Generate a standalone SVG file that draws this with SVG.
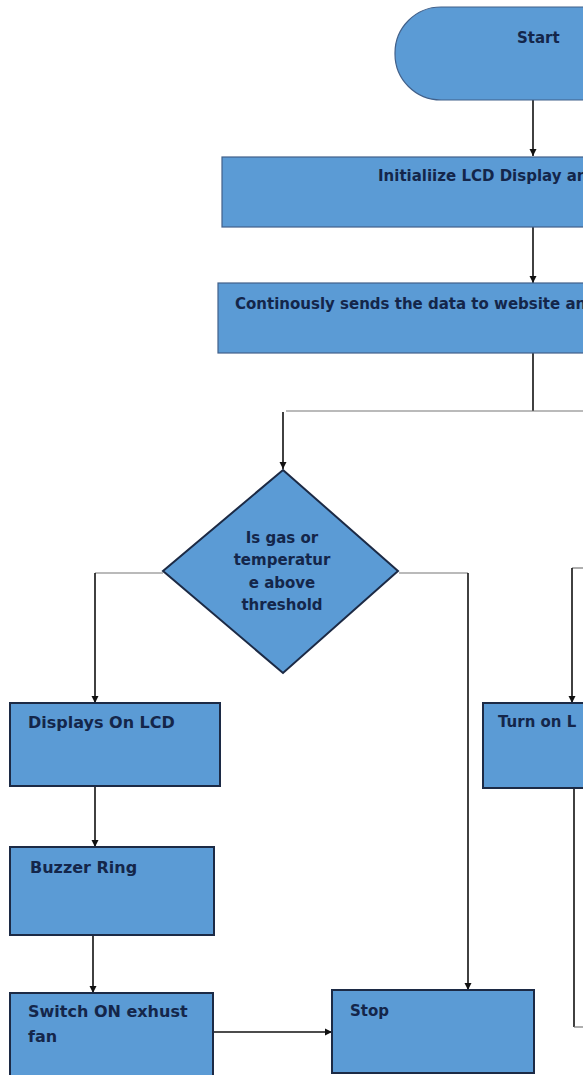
<svg xmlns="http://www.w3.org/2000/svg" width="583" height="1075" viewBox="0 0 583 1075">
<style>
.box{fill:#5b9bd5;stroke:#1c2a45;stroke-width:2}
.soft{fill:#5b9bd5;stroke:#41608a;stroke-width:1.2}
.t{font-family:"DejaVu Sans",sans-serif;font-weight:bold;fill:#14264a;font-size:15px}
.tl{font-size:16px}
.c{fill:none;stroke:#111;stroke-width:1.6}
.g{fill:none;stroke:#777;stroke-width:1.2}
</style>
<defs>
<marker id="ah" markerWidth="8" markerHeight="8" refX="7" refY="4" orient="auto" markerUnits="userSpaceOnUse">
<path d="M0,0.5 L7,4 L0,7.5 Z" fill="#111"/>
</marker>
</defs>
<rect width="583" height="1075" fill="#fff"/>
<g id="connectors">
<line class="c" x1="533" y1="100" x2="533" y2="156" marker-end="url(#ah)"/>
<line class="c" x1="533" y1="227" x2="533" y2="283" marker-end="url(#ah)"/>
<line class="c" x1="533" y1="353" x2="533" y2="411"/>
<line class="g" x1="286" y1="411" x2="583" y2="411"/>
<line class="c" x1="283" y1="412" x2="283" y2="469" marker-end="url(#ah)"/>
<polyline class="g" points="163,573 95,573"/>
<line class="c" x1="95" y1="573" x2="95" y2="703" marker-end="url(#ah)"/>
<polyline class="g" points="399,573 468,573"/>
<line class="c" x1="468" y1="573" x2="468" y2="990" marker-end="url(#ah)"/>
<line class="c" x1="95" y1="786" x2="95" y2="847" marker-end="url(#ah)"/>
<line class="c" x1="93" y1="935" x2="93" y2="993" marker-end="url(#ah)"/>
<line class="c" x1="192" y1="1032" x2="332" y2="1032" marker-end="url(#ah)"/>
<line class="g" x1="572" y1="568" x2="583" y2="568"/>
<line class="c" x1="572" y1="568" x2="572" y2="703" marker-end="url(#ah)"/>
<line class="c" x1="574" y1="788" x2="574" y2="1027"/>
<line class="g" x1="574" y1="1027" x2="583" y2="1027"/>
</g>
<g id="start">
<rect class="soft" x="395" y="7" width="300" height="93" rx="46" ry="46"/>
<text class="t" x="517" y="43">Start</text>
</g>
<g id="init">
<rect class="soft" x="222" y="157" width="400" height="70"/>
<text class="t" x="378" y="181" font-size="14.5">Initialiize LCD Display and</text>
</g>
<g id="send">
<rect class="soft" x="218" y="283" width="400" height="70"/>
<text class="t" x="235" y="309" font-size="14.5">Continously sends the data to website and</text>
</g>
<g id="decision">
<polygon class="box" points="283,470 398,571 283,673 163,571"/>
<text class="t" text-anchor="middle" x="282" y="543">Is gas or</text>
<text class="t" text-anchor="middle" x="282" y="565">temperatur</text>
<text class="t" text-anchor="middle" x="282" y="588">e above</text>
<text class="t" text-anchor="middle" x="282" y="610">threshold</text>
</g>
<g id="display">
<rect class="box" x="10" y="703" width="210" height="83"/>
<text class="t tl" x="28" y="728">Displays On LCD</text>
</g>
<g id="buzzer">
<rect class="box" x="10" y="847" width="204" height="88"/>
<text class="t tl" x="30" y="873">Buzzer Ring</text>
</g>
<g id="fan">
<rect class="box" x="10" y="993" width="203" height="100"/>
<text class="t tl" x="28" y="1017">Switch ON exhust</text>
<text class="t tl" x="28" y="1042">fan</text>
</g>
<g id="stop">
<rect class="box" x="332" y="990" width="202" height="83"/>
<text class="t" x="350" y="1016">Stop</text>
</g>
<g id="turnon">
<rect class="box" x="483" y="703" width="140" height="85"/>
<text class="t" x="498" y="727">Turn  on L</text>
</g>
</svg>
